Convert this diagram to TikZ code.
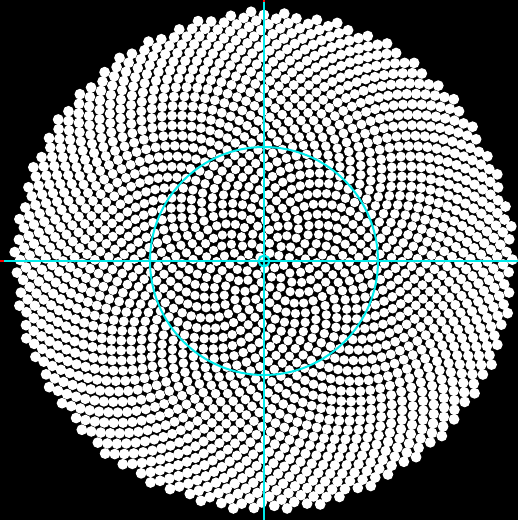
\documentclass[tikz,border=0pt]{standalone}
\usepackage{tikz}
\definecolor{axiscyan}{RGB}{0,235,235}
\tikzset{dot/.style={fill=white,draw=none},
 axis/.style={draw=axiscyan,line width=2pt}}
\begin{document}
\begin{tikzpicture}[x=1pt,y=1pt]
\fill[black] (0,0) rectangle (518,-520);
\useasboundingbox (0,0) rectangle (518,-520);
\foreach \n in {1,...,2000}{
  \edef\px{\fpeval{264+250*sqrt(\n/2000)*cosd(\n*137.50776)}}
  \edef\py{\fpeval{-261+250*sqrt(\n/2000)*sind(\n*137.50776)}}
  \edef\pr{\fpeval{4.6+0.8*\n/2000}}
  \fill[dot] (\px,\py) circle[radius=\pr];
}
\coordinate (c) at (264,-261);
\draw[axis] (0,-261) -- (518,-261);
\draw[axis] (264,0) -- (264,-520);
\draw[red,line width=2pt] (0,-261) -- (4,-261);
\draw[red,line width=2pt] (264,0) -- (264,-2);
\draw[axis] (c) circle[radius=114];
\draw[axis] (c) circle[radius=5.5];
\end{tikzpicture}
\end{document}
